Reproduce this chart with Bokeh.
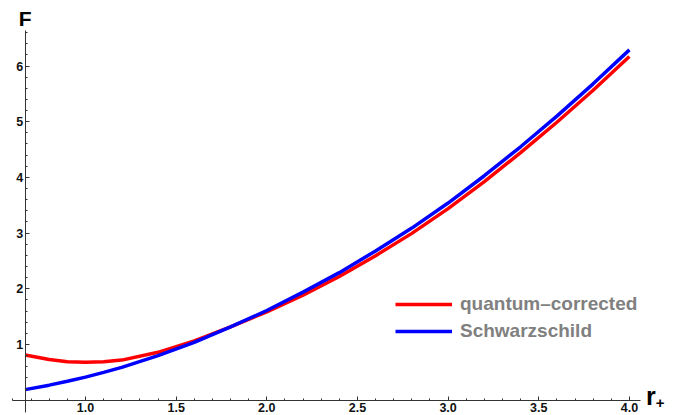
from bokeh.plotting import figure
from bokeh.models import FixedTicker, PrintfTickFormatter, Label, Legend, LegendItem
from bokeh.embed import file_html
from bokeh.resources import INLINE

# ---- data ----
r_plus = [0.667, 0.8, 0.9, 1.0, 1.1, 1.2, 1.4, 1.6, 1.8, 2.0, 2.2, 2.4, 2.6, 2.8, 3.0, 3.2, 3.4, 3.6, 3.8, 4.0]
F_quantum = [0.81, 0.73, 0.69, 0.68, 0.69, 0.72, 0.86, 1.065, 1.315, 1.585, 1.885, 2.22, 2.595, 2.995, 3.44, 3.925, 4.445, 4.99, 5.565, 6.17]
F_schwarz = [0.19, 0.27, 0.34, 0.415, 0.50, 0.59, 0.80, 1.04, 1.315, 1.61, 1.94, 2.29, 2.68, 3.09, 3.54, 4.03, 4.55, 5.10, 5.68, 6.29]
x_ticks = [1.0, 1.5, 2.0, 2.5, 3.0, 3.5, 4.0]
y_ticks = [1, 2, 3, 4, 5, 6]
series_names = ["quantum\u2013corrected", "Schwarzschild"]

FONT = "Liberation Sans"

# frame fills the whole canvas so that the axis titles are not clipped
p = figure(width=676, height=415, output_backend="svg", toolbar_location=None,
           x_range=(0.5312, 4.2598), y_range=(-0.2747, 7.176), min_border=0)
p.outline_line_color = None
p.grid.visible = False
p.background_fill_color = "white"

x_minor = [round(0.6 + 0.1 * i, 2) for i in range(35)]
y_minor = [round(0.2 * i, 2) for i in range(34)]
p.xaxis.ticker = FixedTicker(ticks=x_ticks, minor_ticks=x_minor)
p.yaxis.ticker = FixedTicker(ticks=y_ticks, minor_ticks=y_minor)
p.xaxis.formatter = PrintfTickFormatter(format="%.1f")
p.yaxis.formatter = PrintfTickFormatter(format="%d")
p.xaxis.fixed_location = 0
p.yaxis.fixed_location = 0.667
p.xaxis.bounds = (0.5974, 4.061)
p.yaxis.bounds = (-0.221, 6.637)

for ax in (p.xaxis, p.yaxis):
    ax.axis_line_color = "#333333"
    ax.major_tick_line_color = "#333333"
    ax.minor_tick_line_color = "#333333"
    ax.major_tick_in = 4
    ax.major_tick_out = 0
    ax.minor_tick_in = 2
    ax.minor_tick_out = 0
    ax.major_label_text_font = FONT
    ax.major_label_text_font_style = "bold"
    ax.major_label_text_font_size = "12.5px"
    ax.major_label_text_color = "#111111"
p.xaxis.major_label_standoff = 3
p.yaxis.major_label_standoff = 2

l_q = p.line(r_plus, F_quantum, line_color="#FF0000", line_width=3.5)
l_s = p.line(r_plus, F_schwarz, line_color="#0000FF", line_width=3.5)

legend = Legend(items=[LegendItem(label=series_names[0], renderers=[l_q]),
                       LegendItem(label=series_names[1], renderers=[l_s])],
                location=(395, 73), orientation="vertical",
                border_line_alpha=0, background_fill_alpha=0,
                padding=0, margin=0, spacing=5,
                glyph_width=57, glyph_height=20, label_standoff=8,
                label_text_font=FONT, label_text_font_style="bold",
                label_text_font_size="19px", label_text_color="#808080")
p.add_layout(legend)

p.add_layout(Label(x=0.667, y=7.06, text="F", text_align="center", text_baseline="top",
                   text_font=FONT, text_font_style="bold", text_font_size="21px",
                   text_color="black"))
p.add_layout(Label(x=4.092, y=0.07, text="r", text_align="left", text_baseline="alphabetic",
                   text_font=FONT, text_font_style="bold", text_font_size="25px",
                   text_color="black"))
p.add_layout(Label(x=4.146, y=-0.05, text="+", text_align="left", text_baseline="alphabetic",
                   text_font=FONT, text_font_style="bold", text_font_size="15px",
                   text_color="black"))

open("out.html", "w").write(file_html(p, INLINE))
